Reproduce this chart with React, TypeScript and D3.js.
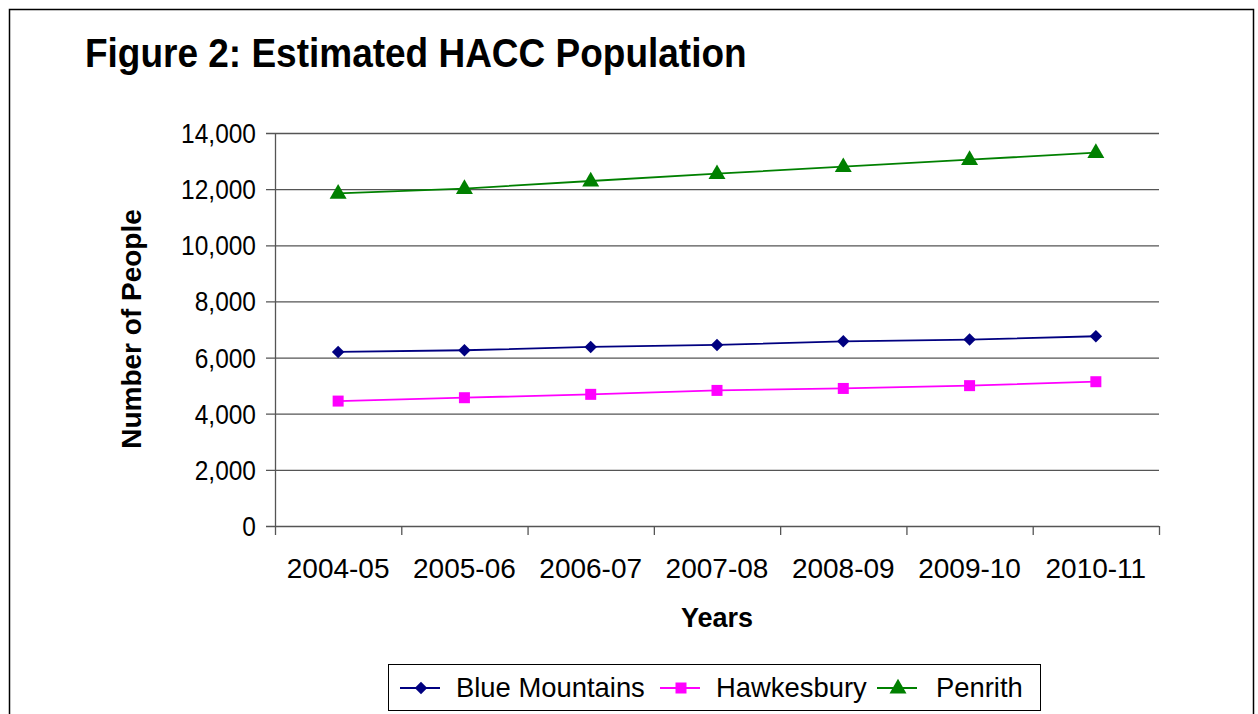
import React from "react";
import * as d3 from "d3";

const years = ["2004-05", "2005-06", "2006-07", "2007-08", "2008-09", "2009-10", "2010-11"];
const blueMountains = [6200, 6260, 6380, 6450, 6580, 6640, 6760];
const hawkesbury = [4450, 4570, 4690, 4830, 4900, 5000, 5140];
const penrith = [11850, 12020, 12290, 12550, 12800, 13050, 13300];
const yTicks = [0, 2000, 4000, 6000, 8000, 10000, 12000, 14000];

const series = [
  { name: "Blue Mountains", values: blueMountains, color: "#000080", marker: "diamond" },
  { name: "Hawkesbury", values: hawkesbury, color: "#FF00FF", marker: "square" },
  { name: "Penrith", values: penrith, color: "#008000", marker: "triangle" },
];

const W = 1258;
const H = 714;
const left = 275, right = 1159, top = 133, bottom = 526;
const font = "'Liberation Sans', Arial, sans-serif";

function Marker({ type, x, y, color }: { type: string; x: number; y: number; color: string }) {
  if (type === "diamond") {
    return <path d={d3.symbol(d3.symbolSquare, 78)()!} transform={`translate(${x},${y}) rotate(45)`} fill={color} />;
  }
  if (type === "triangle") {
    return <path d={d3.symbol(d3.symbolTriangle, 125)()!} transform={`translate(${x},${y + 0.5})`} fill={color} />;
  }
  return <path d={d3.symbol(d3.symbolSquare, 121)()!} transform={`translate(${x},${y})`} fill={color} />;
}

export default function App() {
  const x = d3.scaleBand().domain(years).range([left, right]);
  const y = d3.scaleLinear().domain([0, 14000]).range([bottom, top]);
  const cx = (d: string) => (x(d) as number) + x.bandwidth() / 2;
  const line = d3.line<number>().x((_, i) => cx(years[i])).y((v) => y(v));
  const tickXs = [...years.map((d) => x(d) as number), right];

  const legendItems = [
    { s: series[0], x0: 400, tx: 456 },
    { s: series[1], x0: 660, tx: 716 },
    { s: series[2], x0: 877, tx: 936 },
  ];

  return (
    <svg width={W} height={H} style={{ position: "absolute", left: 0, top: 0 }} fontFamily={font}>
      <rect x={0} y={0} width={W} height={H} fill="#fff" />
      <rect x={9.5} y={9.5} width={1244} height={720} fill="none" stroke="#000" strokeWidth={1.5} />
      <text transform="translate(85,67) scale(1,1.1)" fontSize={37} fontWeight="bold" fill="#000">Figure 2: Estimated HACC Population</text>

      {yTicks.map((t) => (
        <g key={t}>
          <line x1={left - 9} x2={right} y1={y(t) + 0.5} y2={y(t) + 0.5} stroke="#555" strokeWidth={1.3} />
          <text transform={`translate(256,${y(t) + 10}) scale(1,1.12)`} fontSize={24.5} textAnchor="end" fill="#000">{d3.format(",")(t)}</text>
        </g>
      ))}
      <line x1={left + 0.5} x2={left + 0.5} y1={top} y2={bottom} stroke="#555" strokeWidth={1.3} />
      {tickXs.map((tx, i) => (
        <line key={i} x1={tx + 0.5} x2={tx + 0.5} y1={bottom} y2={bottom + 9} stroke="#555" strokeWidth={1.3} />
      ))}
      {years.map((d) => (
        <text key={d} x={cx(d)} y={578} fontSize={28} textAnchor="middle" fill="#000">{d}</text>
      ))}
      <text x={717} y={627} fontSize={27} fontWeight="bold" textAnchor="middle">Years</text>
      <text transform={`translate(141,329) rotate(-90)`} fontSize={28} fontWeight="bold" textAnchor="middle">Number of People</text>

      {series.map((s) => (
        <g key={s.name}>
          <path d={line(s.values)!} fill="none" stroke={s.color} strokeWidth={1.8} />
          {s.values.map((v, i) => (
            <Marker key={i} type={s.marker} x={cx(years[i])} y={y(v)} color={s.color} />
          ))}
        </g>
      ))}

      <rect x={388.5} y={664.5} width={652} height={46} fill="#fff" stroke="#000" strokeWidth={1} />
      {legendItems.map(({ s, x0, tx }) => (
        <g key={s.name}>
          <line x1={x0} x2={x0 + 40} y1={688} y2={688} stroke={s.color} strokeWidth={1.8} />
          <Marker type={s.marker} x={x0 + 21} y={688} color={s.color} />
          <text x={tx} y={697} fontSize={27.4} fill="#000">{s.name}</text>
        </g>
      ))}
    </svg>
  );
}
